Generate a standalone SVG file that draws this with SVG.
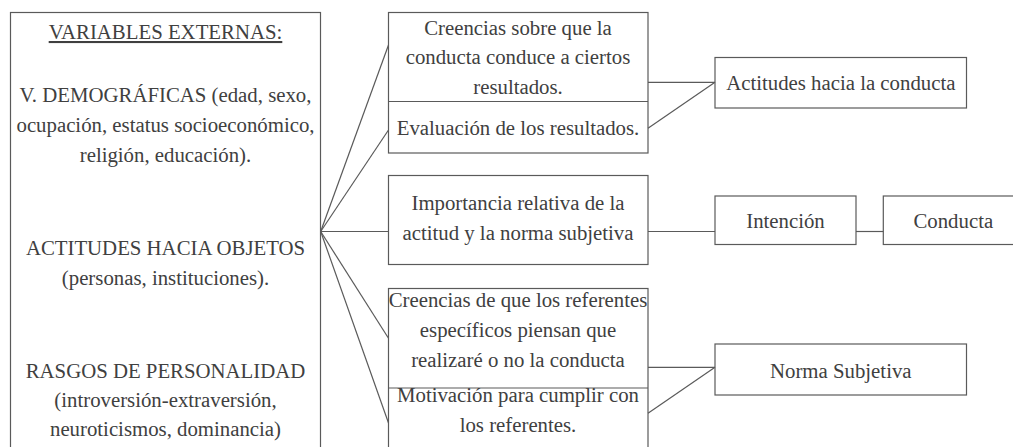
<svg xmlns="http://www.w3.org/2000/svg" width="1013" height="447" viewBox="0 0 1013 447">
<style>
.box{fill:#fff;stroke:#5a5a5a;stroke-width:1.2}
.div{stroke:#5a5a5a;stroke-width:1.2;fill:none}
.t{font-size:20.8px;fill:#404040;text-anchor:middle}
.c line{stroke:#5a5a5a;stroke-width:1.2}
</style>
<rect x="0" y="0" width="1013" height="447" fill="#fff"/>
<g font-family="Liberation Serif, DejaVu Serif, serif">
<g id="externas">
<rect class="box" x="10.5" y="12.5" width="310" height="460"/>
<text class="t" x="165.5" y="39" text-decoration="underline">VARIABLES EXTERNAS:</text>
<text class="t" x="165.5" y="102">V. DEMOGRÁFICAS (edad, sexo,</text>
<text class="t" x="165.5" y="132">ocupación, estatus socioeconómico,</text>
<text class="t" x="165.5" y="162">religión, educación).</text>
<text class="t" x="165.5" y="255">ACTITUDES HACIA OBJETOS</text>
<text class="t" x="165.5" y="284.5">(personas, instituciones).</text>
<text class="t" x="165.5" y="377.5">RASGOS DE PERSONALIDAD</text>
<text class="t" x="165.5" y="407">(introversión-extraversión,</text>
<text class="t" x="165.5" y="436">neuroticismos, dominancia)</text>
</g>
<g id="creencias-resultados">
<rect class="box" x="388.5" y="12.5" width="259.5" height="140.5"/>
<line class="div" x1="388.5" y1="101.5" x2="648" y2="101.5"/>
<text class="t" x="518" y="35">Creencias sobre que la</text>
<text class="t" x="518" y="64">conducta conduce a ciertos</text>
<text class="t" x="518" y="94">resultados.</text>
<text class="t" x="518" y="135">Evaluación de los resultados.</text>
</g>
<g id="importancia">
<rect class="box" x="388.5" y="175.5" width="259.5" height="89"/>
<text class="t" x="518" y="210">Importancia relativa de la</text>
<text class="t" x="518" y="240">actitud y la norma subjetiva</text>
</g>
<g id="creencias-referentes">
<rect class="box" x="388.5" y="288.5" width="259.5" height="180"/>
<line class="div" x1="388.5" y1="388" x2="648" y2="388"/>
<text class="t" x="518" y="306.7">Creencias de que los referentes</text>
<text class="t" x="518" y="336.7">específicos piensan que</text>
<text class="t" x="518" y="366.7">realizaré o no la conducta</text>
<text class="t" x="518" y="401.7">Motivación para cumplir con</text>
<text class="t" x="518" y="431.7">los referentes.</text>
</g>
<g id="actitudes">
<rect class="box" x="715" y="57.5" width="251.5" height="50.5"/>
<text class="t" x="840.8" y="90">Actitudes hacia la conducta</text>
</g>
<g id="intencion">
<rect class="box" x="715" y="196" width="141" height="48.5"/>
<text class="t" x="785.5" y="228.3">Intención</text>
</g>
<g id="conducta">
<rect class="box" x="883.3" y="196" width="140" height="48.5"/>
<text class="t" x="953.3" y="228.3">Conducta</text>
</g>
<g id="norma">
<rect class="box" x="715" y="344" width="251.5" height="51"/>
<text class="t" x="840.8" y="378.3">Norma Subjetiva</text>
</g>
</g>
<g class="c" id="connectors">
<line x1="320.7" y1="231.5" x2="388.5" y2="45"/>
<line x1="320.7" y1="231.5" x2="388.5" y2="130"/>
<line x1="320.7" y1="231.5" x2="388.5" y2="231.5"/>
<line x1="320.7" y1="231.5" x2="388.5" y2="338.3"/>
<line x1="320.7" y1="231.5" x2="388.5" y2="423"/>
<line x1="648" y1="82.3" x2="715" y2="82.3"/>
<line x1="648" y1="128.3" x2="715" y2="82.3"/>
<line x1="648" y1="231.5" x2="715" y2="231.5"/>
<line x1="856" y1="231.5" x2="883.3" y2="231.5"/>
<line x1="648" y1="367.3" x2="715" y2="367.3"/>
<line x1="648" y1="413.3" x2="715" y2="367.3"/>
</g>
</svg>
